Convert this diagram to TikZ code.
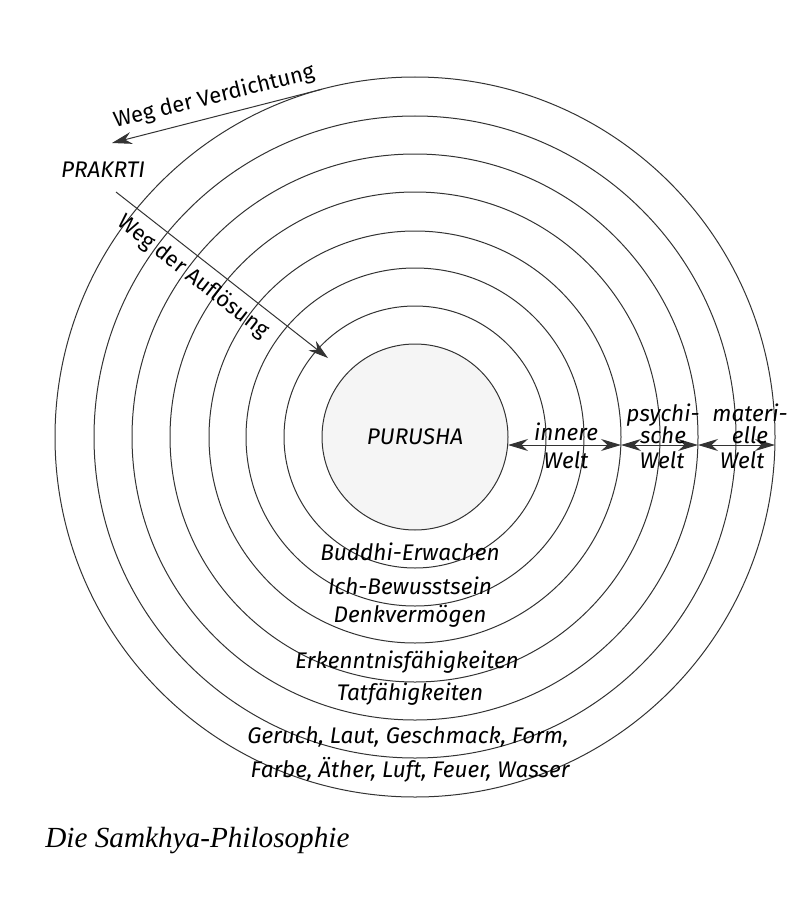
\documentclass[tikz,border=0pt]{standalone}
\usepackage{fontspec}
\setmainfont{Liberation Serif}
\newfontfamily\labelfont{Fira Sans}
\usetikzlibrary{arrows.meta}

\tikzset{
  ring/.style={circle, draw=black!80, line width=0.5pt, inner sep=0pt, outer sep=0pt},
  lbl/.style={font=\labelfont\itshape\fontsize{11.3}{11}\selectfont, inner sep=1pt},
  way/.style={font=\labelfont\fontsize{11}{11}\selectfont, inner sep=1pt},
  arr/.style={draw=black!80, line width=0.5pt, -{Stealth[length=10pt,width=6pt]}},
  darr/.style={arr, {Stealth[length=10pt,width=6pt]}-{Stealth[length=10pt,width=6pt]}},
}

\begin{document}
\begin{tikzpicture}[x=0.5pt, y=-0.5pt]
  \useasboundingbox (0,0) rectangle (792,899);
  \coordinate (c) at (415,437);

  % rings, outermost first
  \foreach \i/\r in {7/360,6/321,5/283,4/245,3/206,2/169,1/131} {
    \node (ring\i) [ring, minimum size=\r pt] at (c) {};
  }
  \node (purusha) [ring, lbl, fill=gray!8, minimum size=93pt] at (c) {PURUSHA};

  % left side: the two ways
  \node (prakrti) [lbl] at (103,170) {PRAKRTI};
  \coordinate (verd-end) at (112,143);
  \draw [arr] (ring7.105) -- (verd-end);
  \node (verd) [way, rotate=14] at (214,97) {Weg der Verdichtung};

  \coordinate (aufl-start) at (116,192);
  \coordinate (aufl-end) at (328,358);
  \draw [arr] (aufl-start) -- (aufl-end);
  \node (aufl) [way, rotate=-38] at (193,277) {Weg der Auflösung};

  % right side: the three worlds
  \draw [darr] ([yshift=-4pt]purusha.east) -- ([yshift=-4pt]ring3.east);
  \draw [darr] ([yshift=-4pt]ring3.east) -- ([yshift=-4pt]ring5.east);
  \draw [darr] ([yshift=-4pt]ring5.east) -- ([yshift=-4pt]ring7.east);
  \node (innere) [lbl] at (566,432) {innere};
  \node (psychi) [lbl, align=center] at (663,424) {psychi-\\sche};
  \node (materi) [lbl, align=center] at (750,424) {materi-\\elle};
  \node (welt1) [lbl] at (566,460) {Welt};
  \node (welt2) [lbl] at (662,460) {Welt};
  \node (welt3) [lbl] at (742,460) {Welt};

  % ring names at the bottom
  \node (buddhi) [lbl, anchor=base] at (410,560) {Buddhi-Erwachen};
  \node (ich) [lbl, anchor=base] at (410,594) {Ich-Bewusstsein};
  \node (denk) [lbl, anchor=base] at (410,622) {Denkvermögen};
  \node (erkennt) [lbl, anchor=base] at (407,668) {Erkenntnisfähigkeiten};
  \node (tat) [lbl, anchor=base] at (410,700) {Tatfähigkeiten};
  \node (geruch) [lbl, anchor=base] at (408,743) {Geruch, Laut, Geschmack, Form,};
  \node (farbe) [lbl, anchor=base] at (410,777) {Farbe, Äther, Luft, Feuer, Wasser};

  \node (caption) [anchor=base west, inner sep=0pt, font=\itshape\fontsize{14.6}{15}\selectfont] at (45,847) {Die Samkhya-Philosophie};
\end{tikzpicture}
\end{document}
